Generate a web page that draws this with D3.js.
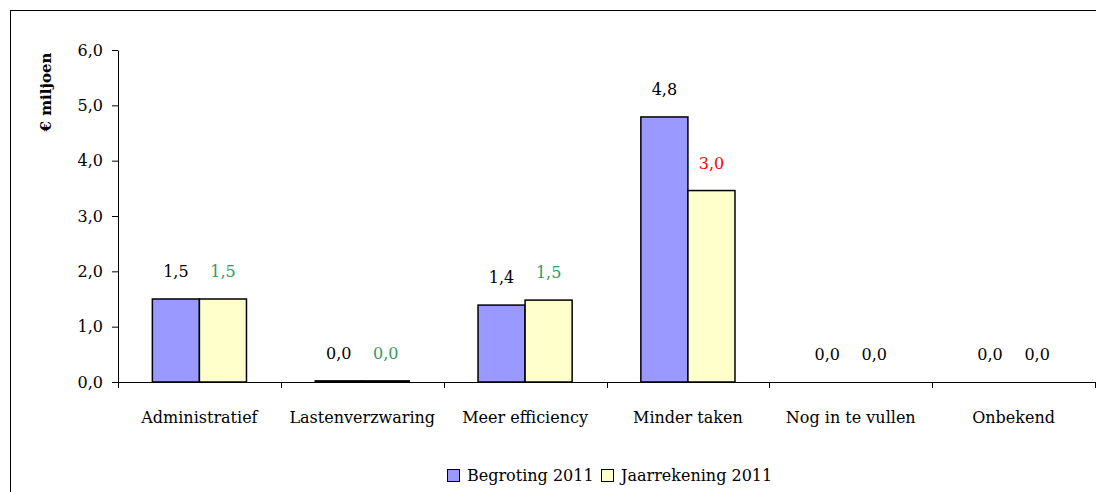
<!DOCTYPE html>
<html>
<head>
<meta charset="utf-8">
<script src="https://cdn.jsdelivr.net/npm/d3@7"></script>
<style>
  html, body { margin: 0; padding: 0; background: #fff; }
  svg { display: block; }
  text { font-family: "DejaVu Serif", "Liberation Serif", serif; fill: #000; }
</style>
</head>
<body>
<svg id="chart" width="1096" height="492"></svg>
<script>
const categories = ["Administratief", "Lastenverzwaring", "Meer efficiency", "Minder taken", "Nog in te vullen", "Onbekend"];
const seriesNames = ["Begroting 2011", "Jaarrekening 2011"];
const begroting = [1.5, 0.02, 1.39, 4.79, 0, 0];
const jaarrekening = [1.5, 0.02, 1.48, 3.46, 0, 0];
const begrotingLabels = ["1,5", "0,0", "1,4", "4,8", "0,0", "0,0"];
const jaarrekeningLabels = ["1,5", "0,0", "1,5", "3,0", "0,0", "0,0"];
const jaarrekeningLabelColors = ["#339966", "#339966", "#339966", "#FF0000", "#000000", "#000000"];
const yTicks = [0, 1, 2, 3, 4, 5, 6];
const seriesColors = ["#9999FF", "#FFFFCC"];

const svg = d3.select("#chart");
const FS = "16px";

// outer frame
svg.append("rect").attr("x", 10.5).attr("y", 10.5).attr("width", 1100).attr("height", 500)
  .attr("fill", "none").attr("stroke", "#000").attr("stroke-width", 1);

const x0 = 118, x1End = 1095, yTop = 50, yBot = 382;
const x = d3.scaleBand().domain(categories).range([x0, x1End]).padding(0);
const bw = x.bandwidth();
const xs = d3.scaleBand().domain(seriesNames).range([bw * 0.211, bw * 0.789]).padding(0);
const y = d3.scaleLinear().domain([0, 6]).range([yBot, yTop]);

// Y axis
const yAxis = d3.axisLeft(y).tickValues(yTicks).tickSize(6).tickSizeOuter(0).tickPadding(9)
  .tickFormat(d => d.toFixed(1).replace(".", ","));
const yg = svg.append("g").attr("transform", `translate(${x0},0)`).call(yAxis);
yg.selectAll("text").style("font-family", "'DejaVu Serif', serif").style("font-size", FS).attr("fill", "#000");
yg.selectAll("line, path").attr("stroke", "#000");

// X axis line and boundary ticks
svg.append("line").attr("x1", x0).attr("x2", x1End).attr("y1", yBot + 0.5).attr("y2", yBot + 0.5).attr("stroke", "#000");
const bounds = categories.map(c => x(c)).concat([x1End]);
svg.selectAll(".xtick").data(bounds).enter().append("line")
  .attr("x1", d => Math.round(d) + 0.5).attr("x2", d => Math.round(d) + 0.5)
  .attr("y1", yBot).attr("y2", yBot + 6).attr("stroke", "#000");
svg.selectAll(".xlab").data(categories).enter().append("text")
  .attr("x", d => x(d) + bw / 2).attr("y", 423)
  .attr("text-anchor", "middle").style("font-size", FS).text(d => d);

// Y title
svg.append("text").attr("transform", "translate(51,92) rotate(-90)")
  .attr("text-anchor", "middle").style("font-size", "15px").style("font-weight", "bold").text("€ miljoen");

// bars
const data = categories.map((c, i) => ({
  cat: c,
  vals: [
    { s: seriesNames[0], v: begroting[i], lab: begrotingLabels[i], col: seriesColors[0], lc: "#000" },
    { s: seriesNames[1], v: jaarrekening[i], lab: jaarrekeningLabels[i], col: seriesColors[1], lc: jaarrekeningLabelColors[i] }
  ]
}));
const groups = svg.selectAll(".grp").data(data).enter().append("g")
  .attr("transform", d => `translate(${x(d.cat)},0)`);
groups.selectAll("rect").data(d => d.vals.filter(v => v.v > 0)).enter().append("rect")
  .attr("x", d => xs(d.s)).attr("width", xs.bandwidth())
  .attr("y", d => y(d.v)).attr("height", d => yBot - y(d.v))
  .attr("fill", d => d.col).attr("stroke", "#000").attr("stroke-width", 1.5);
groups.selectAll("text").data(d => d.vals).enter().append("text")
  .attr("x", d => xs(d.s) + xs.bandwidth() / 2)
  .attr("y", d => y(d.v) - 22)
  .attr("text-anchor", "middle").style("font-size", FS)
  .style("fill", d => d.lc).text(d => d.lab);

// legend
const legend = svg.append("g").attr("transform", "translate(447,469)");
const legItems = [{ n: seriesNames[0], c: seriesColors[0], x: 0 }, { n: seriesNames[1], c: seriesColors[1], x: 154 }];
legItems.forEach(it => {
  legend.append("rect").attr("x", it.x + 0.5).attr("y", 0.5).attr("width", 12).attr("height", 12)
    .attr("fill", it.c).attr("stroke", "#000").attr("stroke-width", 1);
  legend.append("text").attr("x", it.x + 20).attr("y", 12).style("font-size", FS).text(it.n);
});
</script>
</body>
</html>
